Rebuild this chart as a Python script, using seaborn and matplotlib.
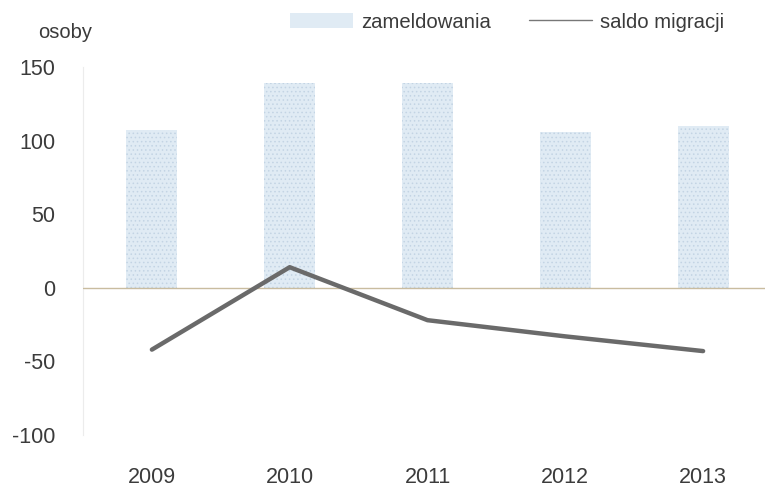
import matplotlib
matplotlib.use("Agg")
import matplotlib.pyplot as plt
from matplotlib.lines import Line2D
from matplotlib.patches import Patch
import seaborn as sns
import pandas as pd

# Data: registrations (bars) and migration balance (line), persons
years = ["2009", "2010", "2011", "2012", "2013"]
zameldowania = [107, 139, 139, 106, 110]
saldo_migracji = [-42, 14, -22, -33, -43]
y_ticks = [-100, -50, 0, 50, 100, 150]

df = pd.DataFrame({"rok": years, "zameldowania": zameldowania, "saldo": saldo_migracji})

sns.set_theme(style="white")
plt.rcParams["font.family"] = ["Liberation Sans", "DejaVu Sans"]
plt.rcParams["hatch.linewidth"] = 0.6

TEXT = "#3b3b3b"
BAR = "#e0ebf4"
GRAIN = "#c3d4e4"
LINE = "#6a6a6a"

fig = plt.figure(figsize=(7.65, 4.88), dpi=100)
ax = fig.add_axes([83 / 765, 1 - 435 / 488, 689 / 765, 368 / 488])

sns.barplot(data=df, x="rok", y="zameldowania", order=years, color=BAR,
            width=0.37, saturation=1, ax=ax, edgecolor=GRAIN, linewidth=0,
            hatch="....")
sns.lineplot(data=df, x="rok", y="saldo", color=LINE, linewidth=3.2,
             ax=ax, solid_capstyle="round", solid_joinstyle="round", zorder=4)

ax.axhline(0, color="#c9bc9f", linewidth=1.0, zorder=3)

ax.set_xlim(-0.5, 4.5)
ax.set_ylim(-100, 150)
ax.set_yticks(y_ticks)
ax.set_yticklabels([str(v) for v in y_ticks])
ax.set_xlabel("")
ax.set_ylabel("")

for side in ("top", "right", "bottom"):
    ax.spines[side].set_visible(False)
ax.spines["left"].set_color("#ececec")
ax.spines["left"].set_linewidth(0.8)

ax.tick_params(axis="y", length=0, pad=20, labelsize=15.5, labelcolor=TEXT)
ax.tick_params(axis="x", length=0, pad=23, labelsize=15.5, labelcolor=TEXT)

fig.text(38 / 765, 1 - 33 / 488, "osoby", fontsize=14.5, color=TEXT,
         ha="left", va="center")

handles = [
    Patch(facecolor=BAR, edgecolor="none"),
    Line2D([], [], color="#777777", linewidth=1.0),
]
fig.legend(handles, ["zameldowania", "saldo migracji"], loc="center left",
           bbox_to_anchor=(290 / 765, 1 - 22 / 488), ncol=2, frameon=False,
           fontsize=14.6, labelcolor=TEXT, handlelength=3.1, handleheight=0.8,
           handletextpad=0.4, columnspacing=1.9, borderpad=0, borderaxespad=0)

fig.savefig("out.png", dpi=100)
